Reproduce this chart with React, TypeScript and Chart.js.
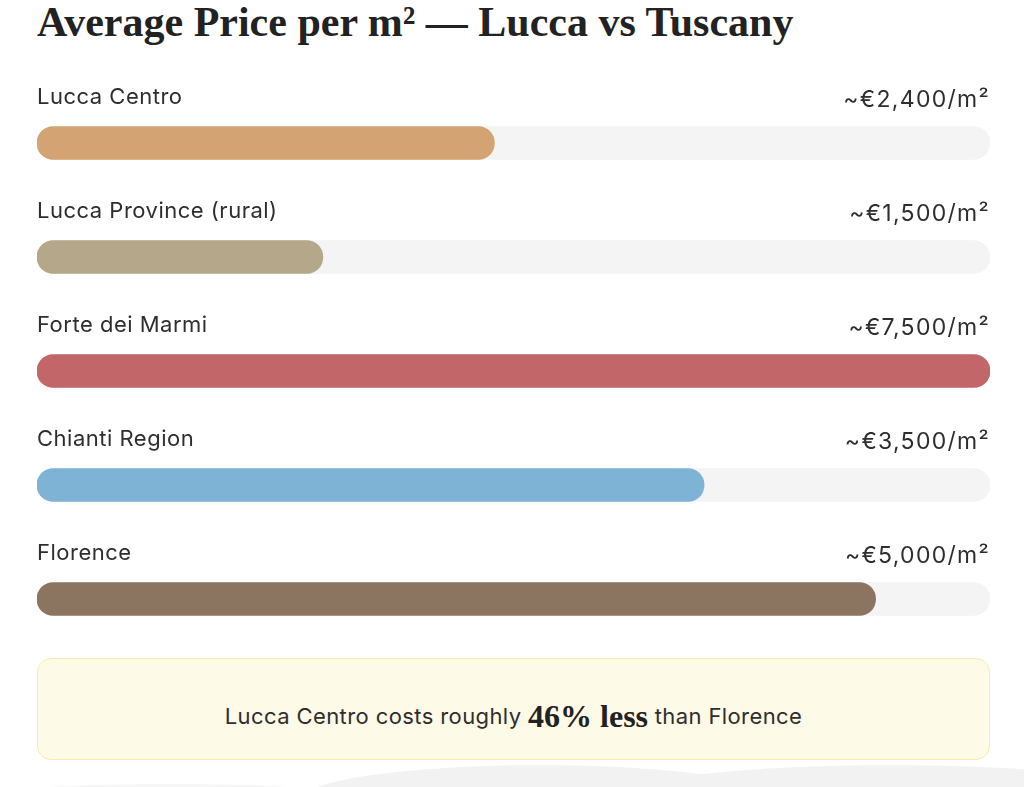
import { useEffect, useRef } from 'react'
import { Chart, registerables } from 'chart.js'

Chart.register(...registerables)

// Rows of the chart
const areas = ['Lucca Centro', 'Lucca Province (rural)', 'Forte dei Marmi', 'Chianti Region', 'Florence']
// Average price per m² in euro (shown as text)
const prices = [2400, 1500, 7500, 3500, 5000]
// Bar fill as a percentage of the track
const fillPercent = [48, 30, 100, 70, 88]
const trackValues = [100, 100, 100, 100, 100]
const barColors = ['#d4a373', '#b5a88a', '#c2666a', '#7fb3d5', '#8b7560']

const bodyFont = 'Inter, "DejaVu Sans", sans-serif'
const serifFont = '"Liberation Serif", "DejaVu Serif", serif'

const formatPrice = (v: number) => `~€${v.toLocaleString('en-US')}/m²`

// Draws the area name above each bar (left) and the price (right)
const rowLabels = {
  id: 'rowLabels',
  afterDatasetsDraw(chart: Chart) {
    const { ctx, chartArea } = chart
    const meta = chart.getDatasetMeta(0)
    ctx.save()
    ctx.fillStyle = '#2e2e2e'
    ctx.textBaseline = 'alphabetic'
    meta.data.forEach((bar: any, i: number) => {
      ctx.font = `22px ${bodyFont}`
      ;(ctx as any).letterSpacing = '0.5px'
      ctx.textAlign = 'left'
      ctx.fillText(areas[i], chartArea.left, bar.y - 39)
      ctx.font = `23px ${bodyFont}`
      ;(ctx as any).letterSpacing = '1.3px'
      ctx.textAlign = 'right'
      ctx.fillText(formatPrice(prices[i]), chartArea.right, bar.y - 36)
    })
    ctx.restore()
  },
}

const PriceBars = () => {
  const chartRef = useRef<HTMLCanvasElement | null>(null)

  useEffect(() => {
    const ctx = chartRef.current?.getContext('2d')
    if (!ctx) return

    new Chart(ctx, {
      type: 'bar',
      data: {
        labels: areas,
        datasets: [
          {
            label: 'Price',
            data: fillPercent,
            backgroundColor: barColors,
            barThickness: 33,
            borderRadius: 17,
            borderSkipped: false,
            grouped: false,
            order: 1,
          },
          {
            label: 'Track',
            data: trackValues,
            backgroundColor: '#f4f4f4',
            barThickness: 33,
            borderRadius: 17,
            borderSkipped: false,
            grouped: false,
            order: 2,
          },
        ],
      },
      options: {
        indexAxis: 'y',
        responsive: true,
        maintainAspectRatio: false,
        animation: false,
        layout: { padding: { left: 37, right: 34, top: 46, bottom: 4 } },
        plugins: {
          legend: { display: false },
          tooltip: { enabled: false },
        },
        scales: {
          x: { display: false, min: 0, max: 100 },
          y: { display: false },
        },
      },
      plugins: [rowLabels],
    })

    return () => {
      Chart.getChart(ctx)?.destroy()
    }
  }, [])

  return <canvas ref={chartRef} />
}

export default function App() {
  useEffect(() => {
    document.body.style.margin = '0'
    document.body.style.overflow = 'hidden'
  }, [])

  return (
    <div style={{ position: 'relative', width: 1024, height: 787, overflow: 'hidden', background: '#fff' }}>
      <div
        style={{
          position: 'absolute',
          left: 37,
          top: 2,
          fontFamily: serifFont,
          fontWeight: 700,
          fontSize: 42,
          lineHeight: '40px',
          color: '#222',
          whiteSpace: 'nowrap',
        }}
      >
        Average Price per m² — Lucca vs Tuscany
      </div>
      <div style={{ position: 'absolute', left: 0, top: 40, width: 1024, height: 620 }}>
        <PriceBars />
      </div>
      <div
        style={{
          position: 'absolute',
          left: 0,
          top: 784,
          width: 340,
          height: 20,
          borderRadius: '50%',
          background: '#f6f6f6',
        }}
      />
      <div
        style={{
          position: 'absolute',
          left: 300,
          top: 765,
          width: 480,
          height: 70,
          borderRadius: '50%',
          background: '#f2f2f2',
        }}
      />
      <div
        style={{
          position: 'absolute',
          left: 610,
          top: 765,
          width: 560,
          height: 70,
          borderRadius: '50%',
          background: '#f2f2f2',
        }}
      />
      <div
        style={{
          position: 'absolute',
          left: 37,
          top: 658,
          width: 953,
          height: 102,
          boxSizing: 'border-box',
          border: '1.5px solid #fbeaa9',
          borderRadius: 14,
          background: '#fefae8',
          display: 'flex',
          alignItems: 'center',
          justifyContent: 'center',
          paddingTop: 14,
          fontFamily: bodyFont,
          fontSize: 22,
          letterSpacing: '0.4px',
          color: '#2e2e2e',
          whiteSpace: 'pre',
        }}
      >
        <span>Lucca Centro costs roughly </span>
        <span style={{ fontFamily: serifFont, fontWeight: 700, fontSize: 32, letterSpacing: 0, color: '#222' }}>
          46% less
        </span>
        <span> than Florence</span>
      </div>
    </div>
  )
}
